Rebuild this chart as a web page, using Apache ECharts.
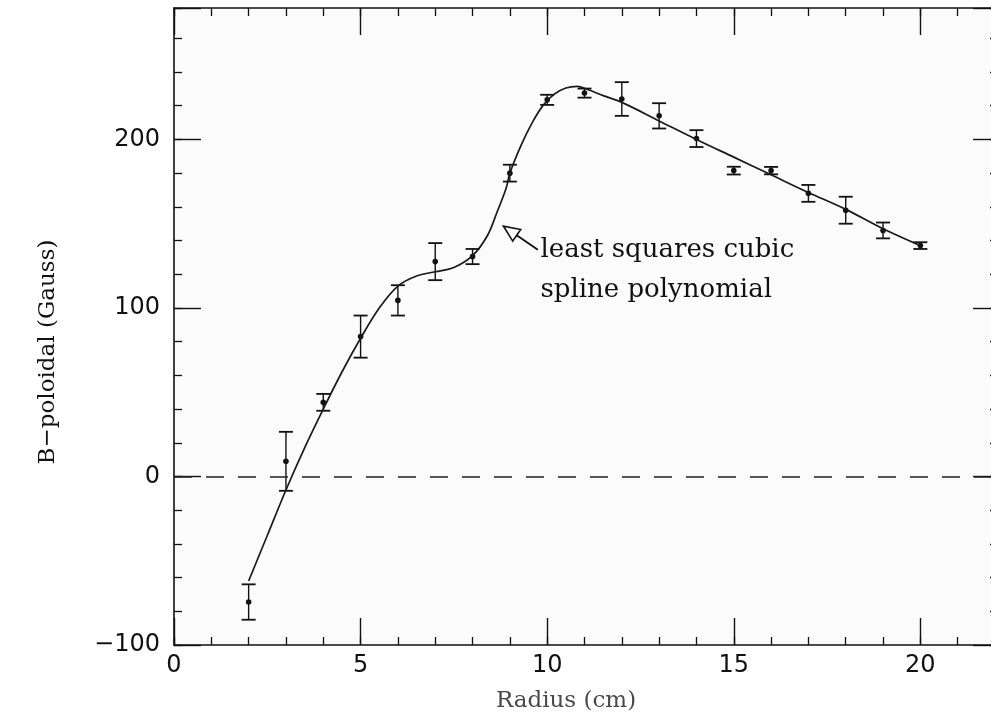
<!DOCTYPE html>
<html>
<head>
<meta charset="utf-8">
<script src="https://cdn.jsdelivr.net/npm/echarts@6/dist/echarts.min.js"></script>
<style>
  html, body { margin: 0; padding: 0; background: #ffffff; overflow: hidden; }
  #chart { width: 991px; height: 713px; }
</style>
</head>
<body>
<div id="chart"></div>
<script>
// Measured poloidal field vs. radius, with one-sigma error bars
const radius = [2, 3, 4, 5, 6, 7, 8, 9, 10, 11, 12, 13, 14, 15, 16, 17, 18, 19, 20];
const bPoloidal = [-74.5, 9, 44, 83, 104.5, 127.5, 130.5, 180, 223.5, 227.5, 224, 214, 200.5, 181.5, 181.5, 168, 158, 146, 137];
const bError = [10.5, 17.5, 5, 12.5, 9, 11, 4.5, 5, 3, 2.7, 10, 7.5, 5, 2.3, 2.2, 5, 8, 4.7, 2];

// Least squares cubic spline through the measurements
const fitRadius = [2, 2.5, 3, 3.5, 4, 4.5, 5, 5.5, 6, 6.5, 7, 7.5, 8, 8.4, 8.65, 8.9, 9, 9.3, 9.6, 9.9, 10.2, 10.5, 10.8, 11.1, 11.5, 12, 13, 14, 15, 16, 17, 18, 19, 20];
const fitB = [-62, -35, -8, 17, 40, 62, 82, 100, 113, 119, 121.5, 124, 131, 143, 156.5, 171, 180, 196.5, 210, 220.5, 227, 230.5, 231.5, 229.5, 226, 222, 211, 200, 189.5, 179, 168.5, 158.5, 147, 137];

// Axis ranges and tick spacing
const xMin = 0, xMax = 22, xMajor = 5, xMinor = 1;
const yMin = -100, yMax = 278, yMajor = 100, yMinor = 20;

// Annotation anchors, in data units
const noteLines = ['least squares cubic', 'spline polynomial'];
const noteAt = [9.82, 134];
const arrowTip = [8.83, 148.5];
const arrowTail = [9.75, 134.5];

const INK = '#111111';
const chart = echarts.init(document.getElementById('chart'), null, { renderer: 'canvas' });

const tickLabelStyle = {
  color: INK,
  fontFamily: '"DejaVu Sans", sans-serif',
  fontSize: 24
};

function majorX(position, showLabel) {
  return {
    type: 'value', position: position, min: xMin, max: xMax, interval: xMajor,
    axisLine: { show: true, onZero: false, lineStyle: { color: INK, width: 1.6 } },
    axisTick: { show: true, inside: true, length: 27, lineStyle: { color: INK, width: 1.4 } },
    axisLabel: showLabel ? Object.assign({ margin: 9, showMaxLabel: false,
      formatter: v => (v % xMajor === 0 ? String(v) : '') }, tickLabelStyle) : { show: false },
    splitLine: { show: false }
  };
}
function minorX(position, len) {
  return {
    type: 'value', position: position, min: xMin, max: xMax, interval: xMinor,
    axisLine: { show: false, onZero: false },
    axisTick: { show: true, inside: true, length: len, lineStyle: { color: INK, width: 1.3 } },
    axisLabel: { show: false }, splitLine: { show: false }
  };
}
function majorY(position, len, showLabel) {
  return {
    type: 'value', position: position, min: yMin, max: yMax, interval: yMajor,
    axisLine: { show: true, onZero: false, lineStyle: { color: INK, width: 1.6 } },
    axisTick: { show: true, inside: true, length: len, lineStyle: { color: INK, width: 1.4 } },
    axisLabel: showLabel ? Object.assign({ margin: 14,
      formatter: v => (v % yMajor === 0 ? String(v).replace('-', '\u2212') : '') }, tickLabelStyle) : { show: false },
    splitLine: { show: false }
  };
}
function minorY(position, len) {
  return {
    type: 'value', position: position, min: yMin, max: yMax, interval: yMinor,
    axisLine: { show: false, onZero: false },
    axisTick: { show: true, inside: true, length: len, lineStyle: { color: INK, width: 1.3 } },
    axisLabel: { show: false }, splitLine: { show: false }
  };
}

function renderErrorBar(params, api) {
  const x = api.value(0), y = api.value(1), e = api.value(2);
  const top = api.coord([x, y + e]);
  const bot = api.coord([x, y - e]);
  const mid = api.coord([x, y]);
  const hw = 7;
  const st = { stroke: INK, lineWidth: 1.4 };
  return {
    type: 'group',
    children: [
      { type: 'line', shape: { x1: top[0], y1: top[1], x2: bot[0], y2: bot[1] }, style: st },
      { type: 'line', shape: { x1: top[0] - hw, y1: top[1], x2: top[0] + hw, y2: top[1] }, style: Object.assign({}, st, { lineWidth: 1.8 }) },
      { type: 'line', shape: { x1: bot[0] - hw, y1: bot[1], x2: bot[0] + hw, y2: bot[1] }, style: Object.assign({}, st, { lineWidth: 1.8 }) },
      { type: 'circle', shape: { cx: mid[0], cy: mid[1], r: 2.8 }, style: { fill: INK } }
    ]
  };
}

chart.setOption({
  backgroundColor: '#ffffff',
  animation: false,
  grid: {
    left: 174, top: 8, width: 821, bottom: 68,
    outerBoundsMode: 'none', containLabel: false,
    show: true, backgroundColor: '#fbfbfb', borderWidth: 0
  },
  xAxis: [
    majorX('bottom', true), minorX('bottom', 8),
    majorX('top', false), minorX('top', 8)
  ],
  yAxis: [
    majorY('left', 27, true), minorY('left', 8),
    majorY('right', 22, false), minorY('right', 5)
  ],
  series: [
    {
      type: 'line', xAxisIndex: 0, yAxisIndex: 0,
      data: fitRadius.map((r, i) => [r, fitB[i]]),
      smooth: 0.35, showSymbol: false,
      lineStyle: { color: '#1a1a1a', width: 1.7 },
      markLine: {
        silent: true, symbol: ['none', 'none'], label: { show: false },
        lineStyle: { color: '#222', width: 1.6, type: [18, 14] },
        data: [{ yAxis: 0 }]
      }
    },
    {
      type: 'custom', xAxisIndex: 0, yAxisIndex: 0,
      renderItem: renderErrorBar,
      data: radius.map((r, i) => [r, bPoloidal[i], bError[i]]),
      encode: { x: 0, y: [1, 2] },
      z: 3
    }
  ]
});

// Axis titles and the annotation with its open-headed arrow
function px(p) { return chart.convertToPixel({ gridIndex: 0 }, p); }
const tip = px(arrowTip), tail = px(arrowTail), note = px(noteAt);
const ang = Math.atan2(tail[1] - tip[1], tail[0] - tip[0]);
const headLen = 16, headHalf = 7;
const bx = tip[0] + headLen * Math.cos(ang), by = tip[1] + headLen * Math.sin(ang);
const nx = -Math.sin(ang), ny = Math.cos(ang);

chart.setOption({
  graphic: [
    {
      type: 'text',
      x: 48, y: 352, rotation: Math.PI / 2,
      style: {
        text: 'B\u2212poloidal (Gauss)', x: 0, y: 0, align: 'center', verticalAlign: 'middle',
        fill: INK, font: '23px "DejaVu Serif", serif'
      }
    },
    {
      type: 'text',
      style: {
        text: 'Radius (cm)', x: 566, y: 701, align: 'center', verticalAlign: 'middle',
        fill: '#4a4a4a', font: '23px "DejaVu Serif", serif'
      }
    },
    {
      type: 'text',
      style: {
        text: noteLines.join('\n'), x: note[0], y: note[1] - 20, align: 'left', verticalAlign: 'top',
        lineHeight: 40, fill: INK, font: '26px "DejaVu Serif", serif'
      }
    },
    {
      type: 'line',
      shape: { x1: tail[0], y1: tail[1], x2: bx, y2: by },
      style: { stroke: INK, lineWidth: 1.8 }
    },
    {
      type: 'polygon',
      shape: { points: [[tip[0], tip[1]], [bx + nx * headHalf, by + ny * headHalf], [bx - nx * headHalf, by - ny * headHalf]] },
      style: { fill: '#ffffff', stroke: INK, lineWidth: 1.6 }
    }
  ]
});
</script>
</body>
</html>
